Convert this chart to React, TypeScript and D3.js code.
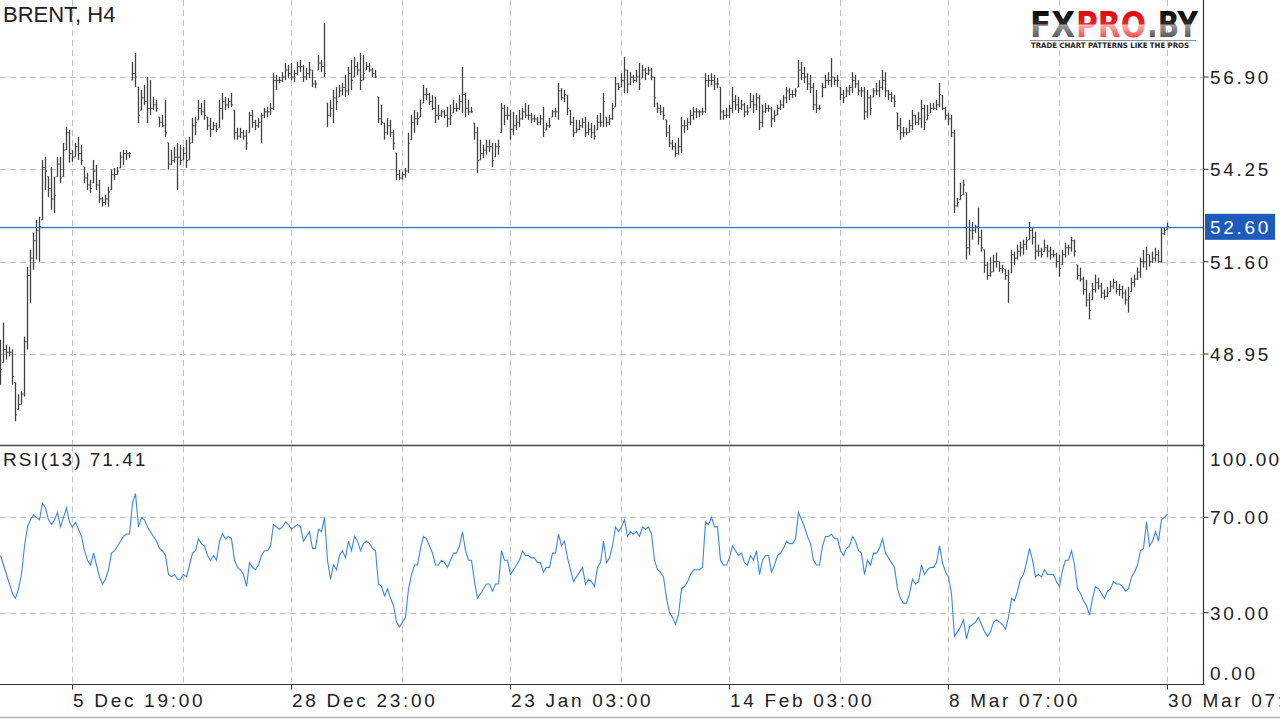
import React from "react";
import * as d3 from "d3";

// ---- DATA ----
const highs: number[] = [
  49.36, 49.85, 49.22, 49.16, 49.08, 48.13, 47.79, 47.88, 49.45, 51.45,
  51.94, 52.43, 52.80, 52.89, 54.52, 54.61, 54.04, 54.32, 54.04, 54.61,
  54.61, 55.01, 55.47, 55.38, 54.81, 55.01, 55.18, 54.95, 54.32, 54.15,
  53.95, 54.52, 54.38, 53.95, 53.46, 53.52, 53.75, 54.24, 54.29, 54.32,
  54.75, 54.81, 54.81, 54.75, 57.33, 57.59, 56.61, 56.53, 56.67, 56.90,
  56.81, 56.33, 56.24, 55.75, 55.81, 56.24, 55.01, 54.81, 54.89, 55.01,
  54.95, 54.89, 55.10, 55.18, 55.72, 55.75, 56.24, 56.15, 56.24, 55.75,
  55.72, 55.61, 55.58, 56.24, 56.44, 56.33, 56.30, 56.44, 55.95, 55.44,
  55.44, 55.38, 55.38, 55.90, 55.95, 55.67, 55.72, 55.87, 56.01, 56.04,
  56.15, 57.01, 56.96, 56.90, 57.04, 57.30, 57.24, 57.30, 57.10, 57.33,
  57.39, 57.24, 57.16, 57.33, 57.10, 56.81, 57.53, 57.39, 58.45, 56.15,
  56.24, 56.53, 56.61, 56.67, 56.73, 56.96, 57.19, 57.39, 57.47, 57.33,
  57.59, 57.53, 57.33, 57.30, 57.16, 57.10, 56.33, 56.10, 55.58, 55.72,
  55.67, 55.38, 54.72, 54.24, 54.18, 54.29, 55.30, 55.81, 55.95, 55.90,
  56.24, 56.67, 56.58, 56.44, 56.38, 56.33, 56.10, 55.95, 55.95, 56.04,
  56.10, 56.24, 56.15, 56.38, 57.19, 56.44, 56.24, 56.04, 55.58, 55.47,
  55.10, 54.95, 55.10, 55.10, 55.01, 55.01, 55.10, 56.15, 56.10, 56.04,
  55.95, 55.90, 55.81, 55.95, 56.01, 56.15, 56.10, 55.87, 55.81, 55.75,
  55.81, 56.04, 55.58, 55.72, 55.95, 56.01, 56.73, 56.58, 56.53, 56.38,
  55.95, 55.75, 55.67, 55.67, 55.72, 55.75, 55.61, 55.58, 55.52, 55.81,
  55.87, 56.44, 55.75, 55.81, 56.15, 56.90, 56.73, 57.01, 57.47, 57.10,
  57.04, 56.96, 57.10, 57.30, 57.24, 57.16, 57.19, 57.16, 56.90, 56.15,
  56.10, 56.04, 55.67, 55.52, 55.10, 55.01, 55.15, 55.75, 55.67, 55.72,
  55.95, 56.04, 56.01, 55.95, 56.01, 57.01, 56.96, 57.01, 56.96, 56.87,
  56.61, 55.95, 56.01, 56.10, 56.61, 56.38, 56.33, 56.24, 56.15, 56.10,
  56.44, 56.38, 56.44, 56.38, 56.10, 56.15, 56.10, 56.04, 55.95, 56.10,
  56.24, 56.38, 56.61, 56.58, 56.53, 56.58, 57.39, 57.33, 57.19, 57.01,
  56.96, 56.73, 56.53, 56.10, 56.73, 56.96, 57.04, 57.44, 56.90, 56.96,
  56.61, 56.53, 56.61, 56.67, 57.04, 56.96, 56.81, 56.61, 56.61, 56.53,
  56.38, 56.58, 56.73, 56.81, 57.10, 57.04, 56.53, 56.47, 56.38, 55.87,
  55.72, 55.47, 55.44, 55.67, 55.95, 55.81, 55.90, 56.24, 56.10, 56.10,
  56.15, 56.15, 56.24, 56.73, 56.38, 56.04, 55.87, 55.81, 55.38, 53.43,
  53.86, 53.95, 53.58, 52.80, 52.74, 52.66, 53.15, 52.52, 51.94, 51.60,
  51.72, 51.80, 51.86, 51.60, 51.51, 51.37, 51.37, 51.94, 51.89, 52.09,
  52.17, 52.23, 52.31, 52.74, 52.57, 52.46, 52.09, 52.00, 52.23, 52.09,
  52.03, 51.94, 51.86, 51.80, 51.94, 52.14, 52.09, 52.31, 52.23, 51.51,
  51.43, 51.17, 51.08, 50.71, 50.99, 51.23, 51.14, 50.99, 50.80, 50.88,
  51.05, 51.11, 51.05, 50.96, 50.91, 50.80, 50.88, 51.14, 51.23, 51.43,
  51.72, 51.94, 52.03, 51.80, 51.89, 52.00, 51.94, 52.60, 52.60, 52.72,
];

const lows: number[] = [
  48.07, 48.71, 48.79, 48.88, 48.07, 47.02, 47.36, 47.50, 47.73, 49.08,
  50.42, 51.37, 51.66, 51.60, 52.80, 53.66, 53.46, 53.09, 53.00, 54.04,
  53.86, 54.04, 54.81, 54.44, 54.47, 54.61, 54.52, 54.38, 53.86, 53.66,
  53.58, 53.86, 53.66, 53.29, 53.18, 53.23, 53.18, 53.66, 53.95, 54.09,
  54.29, 54.38, 54.52, 54.58, 56.81, 56.61, 55.58, 55.95, 56.10, 55.58,
  55.81, 55.95, 55.90, 55.47, 55.47, 55.18, 54.24, 54.38, 54.44, 53.66,
  54.38, 54.52, 54.29, 54.52, 55.01, 55.24, 55.67, 55.81, 55.67, 55.38,
  55.18, 55.38, 55.32, 55.44, 55.67, 55.95, 56.01, 56.04, 55.10, 55.10,
  55.15, 55.10, 54.81, 55.30, 55.44, 55.38, 55.44, 55.01, 55.72, 55.75,
  55.81, 55.95, 56.53, 56.73, 56.76, 56.81, 56.87, 56.81, 56.76, 56.96,
  57.04, 56.76, 56.81, 56.87, 56.61, 56.58, 57.10, 57.04, 56.90, 55.47,
  55.75, 55.58, 55.95, 56.33, 56.38, 56.33, 56.38, 56.53, 56.90, 56.96,
  56.53, 56.81, 57.10, 57.04, 56.90, 56.87, 55.58, 55.52, 55.10, 55.24,
  55.18, 54.81, 53.95, 53.95, 53.95, 54.01, 54.15, 55.10, 55.30, 55.52,
  55.75, 56.15, 56.24, 56.10, 55.95, 55.58, 55.67, 55.75, 55.72, 55.47,
  55.52, 55.87, 55.90, 55.95, 55.87, 55.75, 55.81, 55.87, 55.10, 54.15,
  54.52, 54.58, 54.67, 54.75, 54.32, 54.61, 54.67, 55.30, 55.52, 55.67,
  55.10, 55.24, 55.38, 55.47, 55.67, 55.72, 55.67, 55.58, 55.61, 55.52,
  55.52, 55.18, 55.38, 55.44, 55.75, 55.75, 55.67, 56.24, 56.18, 55.81,
  55.52, 55.18, 55.30, 55.38, 55.44, 55.18, 55.24, 55.15, 55.10, 55.38,
  55.47, 55.47, 55.47, 55.52, 55.67, 56.04, 56.53, 56.61, 56.44, 56.44,
  56.67, 56.73, 56.76, 56.53, 56.87, 56.81, 56.96, 56.81, 56.04, 55.87,
  55.81, 55.67, 55.18, 54.89, 54.81, 54.61, 54.67, 54.72, 55.30, 55.38,
  55.52, 55.67, 55.72, 55.75, 55.81, 55.87, 56.61, 56.67, 56.53, 56.58,
  55.67, 55.67, 55.72, 55.72, 55.87, 55.95, 55.87, 55.95, 55.75, 55.81,
  56.01, 55.87, 55.95, 55.38, 55.47, 55.87, 55.90, 55.47, 55.61, 55.81,
  55.95, 56.01, 56.15, 56.24, 56.30, 56.33, 56.61, 56.81, 56.73, 56.53,
  56.44, 55.95, 55.87, 55.95, 56.33, 56.58, 56.67, 56.61, 56.67, 56.61,
  56.24, 56.15, 56.33, 56.38, 56.44, 56.58, 56.38, 56.33, 55.67, 55.72,
  55.81, 56.33, 56.38, 56.33, 56.53, 56.33, 56.24, 56.18, 56.04, 55.38,
  55.10, 55.18, 55.24, 55.30, 55.38, 55.52, 55.52, 55.44, 55.38, 55.67,
  55.87, 55.95, 55.95, 56.04, 55.95, 55.67, 55.52, 55.18, 53.00, 53.18,
  53.38, 53.52, 51.66, 51.80, 52.23, 52.43, 52.09, 51.89, 51.28, 51.08,
  51.17, 51.31, 51.43, 51.31, 51.28, 51.08, 50.42, 51.28, 51.51, 51.66,
  51.75, 51.80, 51.94, 52.23, 52.09, 51.66, 51.75, 51.72, 51.89, 51.72,
  51.66, 51.72, 51.43, 51.17, 51.51, 51.72, 51.80, 51.89, 51.75, 51.08,
  51.03, 50.65, 50.31, 49.94, 50.51, 50.71, 50.80, 50.56, 50.51, 50.59,
  50.74, 50.82, 50.68, 50.62, 50.54, 50.37, 50.14, 50.74, 50.88, 51.08,
  51.14, 51.43, 51.37, 51.46, 51.57, 51.60, 51.57, 51.57, 52.37, 52.52,
];

const closes: number[] = [
  48.50, 49.08, 49.0, 49.0, 48.3, 47.2, 47.5, 47.8, 49.3, 51.2,
  51.7, 52.2, 52.5, 52.6, 54.3, 54.2, 53.7, 53.4, 53.5, 54.4,
  54.0, 54.8, 55.3, 54.7, 54.6, 54.9, 54.7, 54.5, 54.0, 53.8,
  53.7, 54.2, 53.8, 53.4, 53.3, 53.4, 53.6, 54.1, 54.1, 54.2,
  54.6, 54.7, 54.7, 54.7, 57.0, 56.9, 55.8, 56.3, 56.2, 56.0,
  56.0, 56.1, 56.0, 55.6, 55.5, 55.3, 54.4, 54.5, 54.6, 54.6,
  54.5, 54.7, 54.5, 55.0, 55.5, 55.6, 56.0, 55.9, 55.8, 55.5,
  55.4, 55.5, 55.4, 56.0, 56.2, 56.1, 56.2, 56.1, 55.3, 55.2,
  55.3, 55.2, 55.0, 55.8, 55.6, 55.5, 55.6, 55.8, 55.9, 55.9,
  56.0, 56.8, 56.8, 56.8, 56.9, 57.1, 57.0, 56.9, 57.0, 57.2,
  57.2, 56.9, 57.0, 57.1, 56.7, 56.7, 57.3, 57.2, 57.0, 55.8,
  56.0, 56.3, 56.2, 56.5, 56.6, 56.5, 57.0, 56.8, 57.2, 57.1,
  56.8, 57.0, 57.2, 57.1, 57.0, 56.9, 55.7, 55.6, 55.3, 55.5,
  55.3, 55.0, 54.1, 54.0, 54.1, 54.2, 55.0, 55.6, 55.7, 55.7,
  56.0, 56.4, 56.4, 56.2, 56.0, 55.8, 55.8, 55.9, 55.8, 55.7,
  55.8, 56.0, 56.0, 56.2, 56.4, 56.0, 55.9, 55.9, 55.3, 54.5,
  54.7, 54.8, 54.9, 54.9, 54.5, 54.9, 54.9, 56.0, 55.8, 55.8,
  55.4, 55.5, 55.6, 55.7, 55.9, 55.8, 55.8, 55.7, 55.7, 55.6,
  55.7, 55.3, 55.5, 55.5, 55.9, 55.9, 56.5, 56.3, 56.4, 56.0,
  55.6, 55.3, 55.4, 55.5, 55.6, 55.3, 55.4, 55.3, 55.2, 55.6,
  55.6, 56.2, 55.6, 55.7, 56.0, 56.7, 56.6, 56.8, 57.1, 56.7,
  56.9, 56.8, 56.9, 56.7, 57.1, 57.0, 57.1, 56.9, 56.3, 56.0,
  55.9, 55.8, 55.3, 55.0, 54.9, 54.7, 54.9, 55.5, 55.5, 55.6,
  55.8, 55.9, 55.9, 55.9, 55.9, 56.8, 56.8, 56.8, 56.7, 56.7,
  55.9, 55.8, 55.8, 56.0, 56.2, 56.1, 56.0, 56.1, 55.9, 55.9,
  56.2, 56.1, 56.3, 55.6, 55.9, 56.0, 56.0, 55.7, 55.8, 56.0,
  56.1, 56.3, 56.5, 56.4, 56.4, 56.5, 57.1, 57.0, 56.9, 56.7,
  56.6, 56.1, 56.0, 56.0, 56.6, 56.8, 56.8, 56.9, 56.8, 56.8,
  56.4, 56.3, 56.5, 56.6, 56.8, 56.7, 56.5, 56.5, 55.9, 56.3,
  56.0, 56.5, 56.5, 56.6, 56.8, 56.5, 56.4, 56.3, 56.2, 55.5,
  55.3, 55.3, 55.3, 55.5, 55.8, 55.6, 55.7, 56.0, 55.6, 55.8,
  56.0, 56.0, 56.1, 56.4, 56.0, 55.8, 55.7, 55.3, 53.2, 53.3,
  53.5, 53.8, 52.0, 52.5, 52.5, 52.6, 52.3, 52.0, 51.5, 51.2,
  51.3, 51.6, 51.6, 51.4, 51.4, 51.2, 51.0, 51.8, 51.7, 51.9,
  52.0, 52.1, 52.2, 52.5, 52.3, 51.9, 51.9, 51.8, 52.0, 51.9,
  51.8, 51.8, 51.6, 51.4, 51.8, 52.0, 52.0, 52.2, 51.9, 51.2,
  51.1, 50.8, 50.5, 50.2, 50.8, 51.0, 50.9, 50.7, 50.6, 50.7,
  50.9, 51.0, 50.8, 50.8, 50.7, 50.5, 50.6, 51.0, 51.1, 51.3,
  51.6, 51.6, 51.8, 51.6, 51.7, 51.8, 51.6, 52.4, 52.5, 52.60,
];

const rsiValues: number[] = [
  54, 50, 46, 42, 38, 36, 40, 46, 58, 66,
  69, 71, 70, 69, 76, 74, 69, 67, 69, 72,
  66, 70, 74, 68, 66, 68, 65, 62, 56, 52,
  50, 55, 50, 45, 42, 44, 48, 55, 56, 58,
  60, 62, 63, 63, 76, 80, 66, 70, 69, 66,
  64, 62, 60, 57, 56, 54, 46, 45, 46, 44,
  44, 46, 45, 50, 55, 56, 61, 59, 58, 54,
  52, 54, 52, 60, 63, 61, 62, 61, 52, 49,
  48, 46, 41, 51, 49, 48, 50, 54, 56, 56,
  58, 67, 66, 65, 66, 68, 67, 65, 66, 67,
  66, 60, 62, 64, 57, 57, 65, 64, 70, 52,
  44, 50, 48, 54, 56, 53, 60, 56, 62, 60,
  56, 59, 60, 59, 57, 56, 42, 41, 37, 40,
  36, 33, 26, 24, 26, 28, 40, 46, 50, 50,
  57, 62, 61, 58, 55, 50, 50, 52, 51, 49,
  52, 55, 55, 58, 64, 56, 52, 52, 43, 36,
  38, 40, 42, 42, 39, 42, 42, 56, 52, 52,
  46, 48, 50, 52, 56, 54, 54, 53, 53, 51,
  51, 47, 49, 49, 55, 55, 63, 58, 60, 53,
  48, 43, 45, 47, 49, 42, 44, 43, 41, 49,
  51, 60, 51, 53, 58, 66, 64, 66, 69, 62,
  64, 63, 64, 62, 66, 65, 66, 63, 52, 48,
  47, 45, 36, 30, 28, 25, 29, 40, 41, 43,
  46, 48, 48, 48, 49, 68, 67, 70, 66, 66,
  52, 50, 50, 53, 58, 56, 54, 55, 51, 50,
  54, 52, 56, 46, 52, 54, 54, 47, 50, 54,
  55, 57, 60, 59, 59, 61, 72, 69, 66, 62,
  59, 52, 50, 50, 58, 62, 62, 63, 61, 61,
  56, 54, 57, 58, 62, 60, 56, 55, 46, 52,
  50, 55, 55, 57, 61, 55, 53, 51, 49, 40,
  36, 34, 34, 38, 44, 42, 43, 50, 46, 48,
  49, 49, 51, 58, 51, 47, 45, 38, 20, 22,
  24, 27, 19, 24, 25, 26, 28, 25, 22, 20,
  22, 26, 27, 26, 25, 23, 28, 36, 35, 39,
  44, 46, 51, 57, 52, 45, 46, 45, 48, 46,
  46, 46, 43, 41, 48, 52, 52, 56, 50, 40,
  38, 35, 33, 29, 36, 41, 40, 38, 36, 39,
  40, 43, 42, 42, 41, 39, 40, 45, 47, 50,
  56, 57, 68, 58, 60, 64, 60, 69, 70, 71.41,
];

const priceTicks: number[] = [56.9, 54.25, 51.6, 48.95];
const rsiTicks: number[] = [100, 70, 30, 0];
const rsiGridLevels: number[] = [70, 30];
const gridBarIndex: number[] = [24, 61, 97, 134, 170, 207, 243, 280, 316, 353, 389];
const labelBarIndex: number[] = [24, 97, 170, 243, 316, 389];
const timeLabels: string[] = [
  "5 Dec 19:00",
  "28 Dec 23:00",
  "23 Jan 03:00",
  "14 Feb 03:00",
  "8 Mar 07:00",
  "30 Mar 07:00",
];
const lastPrice = 52.6;
const rsiLast = 71.41;
const symbolTitle = "BRENT, H4";
const logoParts: string[] = ["FX", "PRO", ".BY"];
const logoTagline = "TRADE CHART PATTERNS LIKE THE PROS";

// ---- LAYOUT ----
const W = 1280;
const H = 720;
const AXIS_X = 1203.5;
const PANEL_SPLIT = 445.5;
const BOTTOM = 684.5;
const FONT = "'Liberation Sans', Arial, sans-serif";
const AXIS_FS = 19;
const AXIS_LS = 2.7;

export default function App() {
  const N = closes.length;
  const x = d3.scaleLinear().domain([0, N - 1]).range([0, 1167]);
  const yP = d3.scaleLinear().domain([48.95, 56.9]).range([354, 77]);
  const yR = d3.scaleLinear().domain([0, 100]).range([684, 446]);

  const rsiLine = d3
    .line<number>()
    .x((_, i) => x(i) + 0.5)
    .y((v) => yR(v))
    .curve(d3.curveLinear)(rsiValues) as string;

  const bars = closes.map((c, i) => {
    const hi = highs[i];
    const lo = lows[i];
    const prev = i > 0 ? closes[i - 1] : c;
    const o = Math.max(lo, Math.min(hi, prev));
    const cc = Math.max(lo, Math.min(hi, c));
    return { i, hi, lo, o, c: cc };
  });

  const gridStroke = "#c4c4c4";
  const dash = "6,4";

  // logo segments: [x, width, gradient]
  const logoLayout: [number, number, string][] = [
    [1030, 45, "url(#gBlack)"],
    [1076, 70, "url(#gRed)"],
    [1147, 51, "url(#gBlack)"],
  ];

  return (
    <svg
      width={W}
      height={H}
      viewBox={`0 0 ${W} ${H}`}
      style={{ position: "fixed", left: 0, top: 0, background: "#fff" }}
    >
      <defs>
        <linearGradient id="gBlack" gradientUnits="userSpaceOnUse" x1="0" y1="9" x2="0" y2="38">
          <stop offset="0" stopColor="#000" />
          <stop offset="0.5" stopColor="#2a2a2a" />
          <stop offset="0.56" stopColor="#9a9a9a" />
          <stop offset="1" stopColor="#555" />
        </linearGradient>
        <linearGradient id="gRed" gradientUnits="userSpaceOnUse" x1="0" y1="9" x2="0" y2="38">
          <stop offset="0" stopColor="#e0000b" />
          <stop offset="0.5" stopColor="#ee2027" />
          <stop offset="0.56" stopColor="#ffb0b0" />
          <stop offset="1" stopColor="#f04848" />
        </linearGradient>
      </defs>
      <rect x={0} y={0} width={W} height={H} fill="#fff" />

      {/* horizontal price grid */}
      {priceTicks.map((t) => (
        <line
          key={"pg" + t}
          x1={0}
          x2={AXIS_X}
          y1={Math.round(yP(t)) + 0.5}
          y2={Math.round(yP(t)) + 0.5}
          stroke={gridStroke}
          strokeDasharray={dash}
        />
      ))}
      {/* horizontal RSI grid */}
      {rsiGridLevels.map((t) => (
        <line
          key={"rg" + t}
          x1={0}
          x2={AXIS_X}
          y1={Math.round(yR(t)) + 0.5}
          y2={Math.round(yR(t)) + 0.5}
          stroke={gridStroke}
          strokeDasharray={dash}
        />
      ))}
      {/* vertical grid */}
      {gridBarIndex.map((b) => (
        <g key={"vg" + b}>
          <line
            x1={Math.round(x(b)) + 0.5}
            x2={Math.round(x(b)) + 0.5}
            y1={0}
            y2={PANEL_SPLIT - 1}
            stroke={gridStroke}
            strokeDasharray={dash}
          />
          <line
            x1={Math.round(x(b)) + 0.5}
            x2={Math.round(x(b)) + 0.5}
            y1={PANEL_SPLIT + 1}
            y2={BOTTOM - 1}
            stroke={gridStroke}
            strokeDasharray={dash}
          />
        </g>
      ))}

      {/* OHLC bars */}
      <g stroke="#404040" strokeWidth={1.3}>
        {bars.map((b) => {
          const cx = Math.round(x(b.i)) + 0.5;
          return (
            <g key={"b" + b.i}>
              <line x1={cx} x2={cx} y1={yP(b.hi)} y2={yP(b.lo)} />
              <line x1={cx - 1.2} x2={cx} y1={yP(b.o)} y2={yP(b.o)} strokeWidth={1} />
              <line x1={cx} x2={cx + 1.4} y1={yP(b.c)} y2={yP(b.c)} strokeWidth={1} />
            </g>
          );
        })}
      </g>

      {/* last price line */}
      <rect
        x={0}
        y={Math.round(yP(lastPrice)) - 0.1}
        width={AXIS_X}
        height={1.3}
        fill="#2f74e6"
      />

      {/* RSI line */}
      <path d={rsiLine} fill="none" stroke="#3b86e2" strokeWidth={1.1} />

      {/* panel separators and axes */}
      <line x1={0} x2={AXIS_X + 1} y1={PANEL_SPLIT} y2={PANEL_SPLIT} stroke="#4a4a4a" strokeWidth={1.5} />
      <line x1={0} x2={AXIS_X + 1} y1={BOTTOM} y2={BOTTOM} stroke="#333" strokeWidth={1.2} />
      <line x1={AXIS_X} x2={AXIS_X} y1={0} y2={BOTTOM} stroke="#333" strokeWidth={1.2} />
      <line x1={0} x2={W} y1={717.5} y2={717.5} stroke="#b0b0b0" strokeWidth={1.5} />

      {/* price axis ticks + labels */}
      {priceTicks.map((t) => (
        <g key={"pt" + t}>
          <line x1={AXIS_X} x2={AXIS_X + 5} y1={yP(t)} y2={yP(t)} stroke="#333" />
          <text
            x={1210}
            y={yP(t) + 7}
            fontFamily={FONT}
            fontSize={AXIS_FS}
            letterSpacing={AXIS_LS}
            fill="#222"
          >
            {t.toFixed(2)}
          </text>
        </g>
      ))}
      {/* last price box */}
      <rect x={1205} y={yP(lastPrice) - 13} width={70} height={26} fill="#1c5bbd" />
      <text
        x={1210}
        y={yP(lastPrice) + 7}
        fontFamily={FONT}
        fontSize={AXIS_FS}
        letterSpacing={AXIS_LS}
        fill="#fff"
      >
        {lastPrice.toFixed(2)}
      </text>

      {/* RSI axis ticks + labels */}
      {rsiTicks.map((t) => {
        const yy = yR(t);
        const ly = t === 100 ? yy + 13 : t === 0 ? yy - 11 : yy;
        return (
          <g key={"rt" + t}>
            {t !== 100 && t !== 0 && (
              <line x1={AXIS_X} x2={AXIS_X + 5} y1={yy} y2={yy} stroke="#333" />
            )}
            <text
              x={1210}
              y={ly + 7}
              fontFamily={FONT}
              fontSize={AXIS_FS}
              letterSpacing={t === 100 ? 2.2 : AXIS_LS}
              fill="#222"
            >
              {t.toFixed(2)}
            </text>
          </g>
        );
      })}

      {/* time axis */}
      {labelBarIndex.map((b, k) => (
        <g key={"tl" + b}>
          <line
            x1={Math.round(x(b)) + 0.5}
            x2={Math.round(x(b)) + 0.5}
            y1={BOTTOM}
            y2={BOTTOM + 5}
            stroke="#333"
          />
          <text
            x={x(b) + 1}
            y={707}
            fontFamily={FONT}
            fontSize={AXIS_FS}
            letterSpacing={AXIS_LS}
            fill="#222"
          >
            {timeLabels[k]}
          </text>
        </g>
      ))}

      {/* titles */}
      <text x={3} y={22} fontFamily={FONT} fontSize={22} fill="#222">
        {symbolTitle}
      </text>
      <text x={3} y={466} fontFamily={FONT} fontSize={19} letterSpacing={2} fill="#222">
        {`RSI(13) ${rsiLast.toFixed(2)}`}
      </text>

      {/* logo */}
      {logoParts.map((p, k) => (
        <text
          key={"lg" + k}
          x={logoLayout[k][0]}
          y={37}
          fontFamily="'DejaVu Sans', sans-serif"
          fontWeight="bold"
          fontSize={36}
          textLength={logoLayout[k][1]}
          lengthAdjust="spacingAndGlyphs"
          fill={logoLayout[k][2]}
        >
          {p}
        </text>
      ))}
      <line x1={1030} x2={1196} y1={40.5} y2={40.5} stroke="#777" strokeWidth={0.8} />
      <text
        x={1031}
        y={48}
        fontFamily="'DejaVu Sans', sans-serif"
        fontWeight="bold"
        fontSize={7.5}
        textLength={158}
        lengthAdjust="spacingAndGlyphs"
        fill="#222"
      >
        {logoTagline}
      </text>
    </svg>
  );
}
